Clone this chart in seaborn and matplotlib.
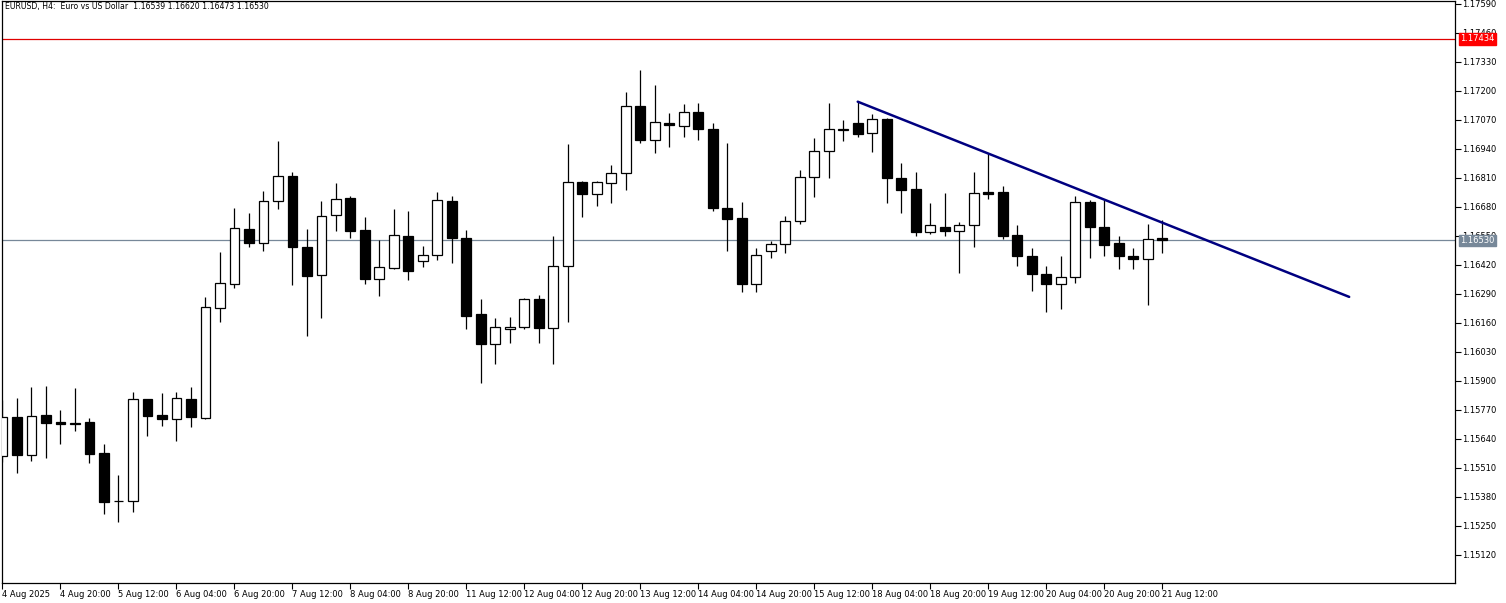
import numpy as np
import pandas as pd
import matplotlib
matplotlib.use("Agg")
import matplotlib.pyplot as plt
import matplotlib.transforms as mtransforms
import seaborn as sns

# EURUSD H4 candles
opens = [1.15564, 1.15737, 1.15570, 1.15746, 1.15714, 1.15706, 1.15715, 1.15576, 1.15364, 1.15362,
         1.15819, 1.15746, 1.15728, 1.15819, 1.15735, 1.16226, 1.16333, 1.16583, 1.16517, 1.16706,
         1.16819, 1.16502, 1.16375, 1.16643, 1.16722, 1.16576, 1.16359, 1.16408, 1.16550, 1.16437,
         1.16465, 1.16708, 1.16542, 1.16199, 1.16066, 1.16134, 1.16141, 1.16266, 1.16139, 1.16416,
         1.16791, 1.16737, 1.16789, 1.16834, 1.17133, 1.16980, 1.17058, 1.17043, 1.17105, 1.17030,
         1.16677, 1.16632, 1.16335, 1.16481, 1.16513, 1.16619, 1.16814, 1.16932, 1.17027, 1.17055,
         1.17010, 1.17074, 1.16811, 1.16759, 1.16569, 1.16592, 1.16574, 1.16599, 1.16745, 1.16746,
         1.16554, 1.16460, 1.16380, 1.16335, 1.16366, 1.16701, 1.16592, 1.16517, 1.16462, 1.16446,
         1.16539]
highs = [1.15815, 1.15822, 1.15872, 1.15878, 1.15770, 1.15867, 1.15733, 1.15616, 1.15479, 1.15852,
         1.15821, 1.15845, 1.15852, 1.15872, 1.16278, 1.16477, 1.16677, 1.16652, 1.16753, 1.16977,
         1.16838, 1.16580, 1.16707, 1.16786, 1.16729, 1.16637, 1.16531, 1.16670, 1.16662, 1.16507,
         1.16747, 1.16729, 1.16577, 1.16266, 1.16184, 1.16188, 1.16271, 1.16284, 1.16551, 1.16962,
         1.16798, 1.16798, 1.16867, 1.17197, 1.17294, 1.17227, 1.17100, 1.17142, 1.17145, 1.17055,
         1.16966, 1.16704, 1.16495, 1.16528, 1.16640, 1.16846, 1.16988, 1.17145, 1.17070, 1.17152,
         1.17096, 1.17078, 1.16876, 1.16836, 1.16697, 1.16741, 1.16614, 1.16836, 1.16921, 1.16774,
         1.16599, 1.16495, 1.16417, 1.16462, 1.16729, 1.16711, 1.16711, 1.16550, 1.16498, 1.16604,
         1.16620]
lows = [1.15537, 1.15486, 1.15541, 1.15556, 1.15618, 1.15675, 1.15531, 1.15304, 1.15267, 1.15311,
        1.15653, 1.15700, 1.15632, 1.15695, 1.15731, 1.16163, 1.16318, 1.16499, 1.16484, 1.16670,
        1.16330, 1.16102, 1.16184, 1.16574, 1.16540, 1.16333, 1.16281, 1.16402, 1.16353, 1.16412,
        1.16442, 1.16430, 1.16132, 1.15890, 1.15976, 1.16069, 1.16134, 1.16069, 1.15975, 1.16166,
        1.16634, 1.16684, 1.16697, 1.16756, 1.16966, 1.16921, 1.16948, 1.16992, 1.16980, 1.16663,
        1.16484, 1.16300, 1.16300, 1.16450, 1.16472, 1.16602, 1.16726, 1.16809, 1.16976, 1.16992,
        1.16928, 1.16699, 1.16652, 1.16550, 1.16559, 1.16550, 1.16383, 1.16499, 1.16716, 1.16537,
        1.16416, 1.16305, 1.16211, 1.16223, 1.16338, 1.16450, 1.16460, 1.16402, 1.16402, 1.16241,
        1.16473]
closes = [1.15739, 1.15568, 1.15742, 1.15712, 1.15707, 1.15713, 1.15573, 1.15356, 1.15360, 1.15818,
          1.15743, 1.15728, 1.15822, 1.15740, 1.16230, 1.16338, 1.16587, 1.16517, 1.16706, 1.16819,
          1.16501, 1.16371, 1.16640, 1.16717, 1.16574, 1.16359, 1.16410, 1.16553, 1.16394, 1.16463,
          1.16713, 1.16541, 1.16193, 1.16066, 1.16143, 1.16143, 1.16266, 1.16138, 1.16417, 1.16791,
          1.16737, 1.16791, 1.16831, 1.17133, 1.16980, 1.17060, 1.17048, 1.17105, 1.17030, 1.16674,
          1.16626, 1.16333, 1.16465, 1.16514, 1.16619, 1.16816, 1.16932, 1.17030, 1.17030, 1.17006,
          1.17073, 1.16809, 1.16756, 1.16569, 1.16599, 1.16574, 1.16599, 1.16741, 1.16740, 1.16551,
          1.16460, 1.16380, 1.16335, 1.16368, 1.16704, 1.16589, 1.16510, 1.16460, 1.16446, 1.16537,
          1.16530]

x_labels = ["4 Aug 2025", "4 Aug 20:00", "5 Aug 12:00", "6 Aug 04:00", "6 Aug 20:00",
            "7 Aug 12:00", "8 Aug 04:00", "8 Aug 20:00", "11 Aug 12:00", "12 Aug 04:00",
            "12 Aug 20:00", "13 Aug 12:00", "14 Aug 04:00", "14 Aug 20:00", "15 Aug 12:00",
            "18 Aug 04:00", "18 Aug 20:00", "19 Aug 12:00", "20 Aug 04:00", "20 Aug 20:00",
            "21 Aug 12:00"]
y_ticks = [1.17590, 1.17460, 1.17330, 1.17200, 1.17070, 1.16940, 1.16810, 1.16680, 1.16550, 1.16420,
           1.16290, 1.16160, 1.16030, 1.15900, 1.15770, 1.15640, 1.15510, 1.15380, 1.15250, 1.15120]

# trend line (bar index, price) and horizontal levels
trend_x = [59, 92.9]
trend_y = [1.17152, 1.16277]
red_level = 1.17434
bid_level = 1.16530
title = "EURUSD, H4:  Euro vs US Dollar  1.16539 1.16620 1.16473 1.16530"

sns.set_style("white")
plt.rcParams['font.family'] = ['DejaVu Sans']

df = pd.DataFrame({"open": opens, "high": highs, "low": lows, "close": closes})
df["idx"] = np.arange(len(df))
df["up"] = df["close"] >= df["open"]
df["bottom"] = df[["open", "close"]].min(axis=1)
df["height"] = (df["close"] - df["open"]).abs().clip(lower=0.000015)

W, H = 1506, 603
fig = plt.figure(figsize=(W / 100, H / 100), dpi=100)
ax = fig.add_axes([2 / W, 20 / H, 1453 / W, 582 / H])

# levels
ax.axhline(red_level, color="#e00000", lw=0.9, zorder=1)
ax.axhline(bid_level, color="#778899", lw=0.9, zorder=1)

# wicks
ax.vlines(df["idx"], df["low"], df["high"], color="black", lw=0.9, zorder=2)
# bodies
colors = np.where(df["up"], "white", "black")
ax.bar(df["idx"], df["height"], bottom=df["bottom"], width=0.67,
       color=colors, edgecolor="black", linewidth=0.9, zorder=3)

sns.lineplot(x=trend_x, y=trend_y, ax=ax, color="#000080", linewidth=1.8, zorder=4)

ax.set_xlim(-0.03, 100.2)
ax.set_ylim(1.149944, 1.176034)

ax.yaxis.tick_right()
ax.set_yticks(y_ticks)
ax.set_yticklabels([f"{v:.5f}" for v in y_ticks])
ax.set_xticks(np.arange(0, 4 * len(x_labels), 4))
ax.set_xticklabels(x_labels, ha="left")
offset = mtransforms.ScaledTranslation(2 / 100, 0, fig.dpi_scale_trans)
for lab in ax.get_xticklabels():
    lab.set_transform(lab.get_transform() + offset)
ax.tick_params(axis="both", direction="out", length=4, width=0.8, labelsize=6,
               colors="black", pad=1)
ax.tick_params(axis="x", bottom=True)
ax.tick_params(axis="y", right=True, left=False)

for sp in ax.spines.values():
    sp.set_color("black")
    sp.set_linewidth(0.9)

# price labels on the right scale
for lvl, col in [(red_level, "#ff0000"), (bid_level, "#778899")]:
    ax.annotate(f"{lvl:.5f}", xy=(1.0, lvl), xycoords=("axes fraction", "data"),
                xytext=(4, 0), textcoords="offset points", ha="left", va="center",
                fontsize=6, color="white", zorder=10,
                bbox=dict(boxstyle="square,pad=0.15", fc=col, ec=col), annotation_clip=False)

ax.text(3 / 1453, 1 - 6 / 582, title, transform=ax.transAxes, fontsize=5.6,
        ha="left", va="center", color="black")

ax.set_xlabel("")
ax.set_ylabel("")
fig.savefig("out.png", dpi=100)
